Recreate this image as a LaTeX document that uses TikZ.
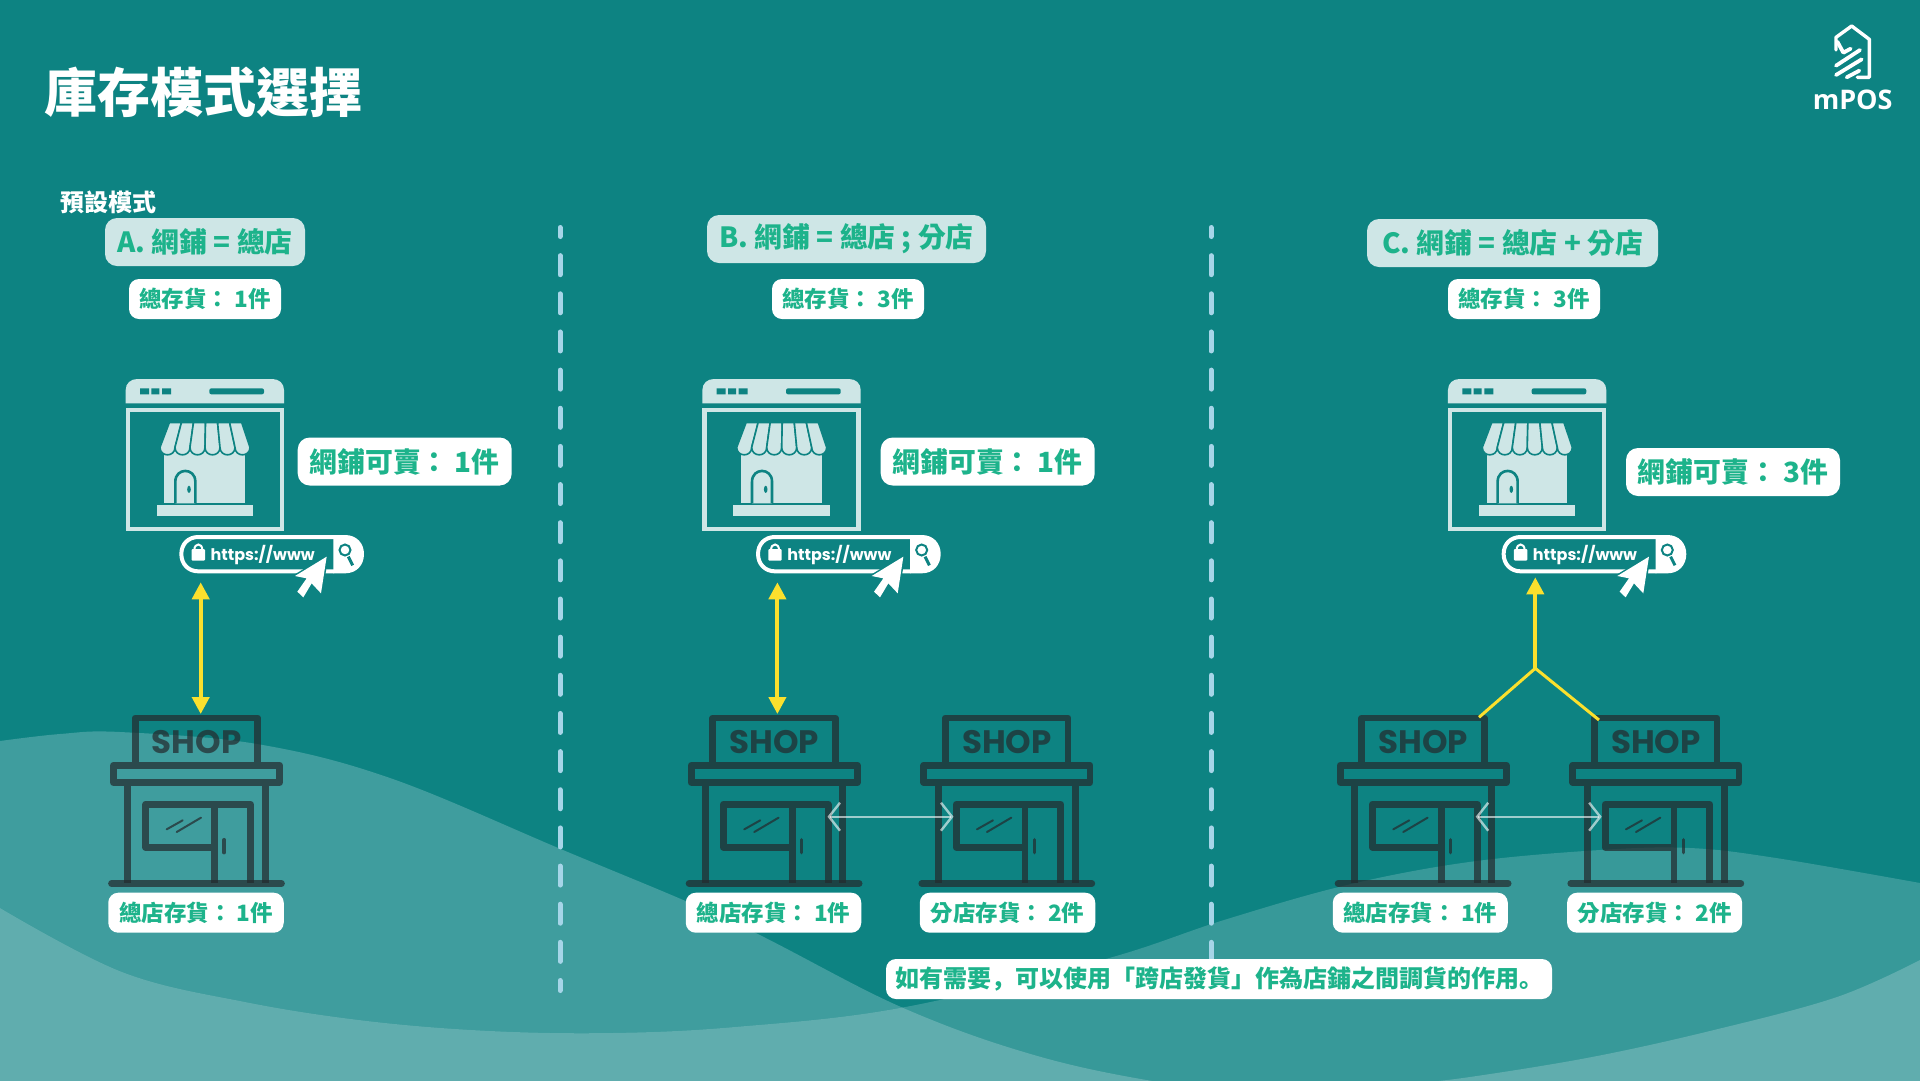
\documentclass[tikz,border=0pt]{standalone}
\usepackage{fontspec}
\setmainfont{Noto Sans CJK TC}
\newfontfamily\notefont{Noto Sans CJK JP}
\newfontfamily\urlfont{Poppins}
\newfontfamily\shopfont{Poppins}
\newfontfamily\logofont{Open Sans}
\usetikzlibrary{arrows.meta}
\definecolor{bgteal}{HTML}{0D8382}
\definecolor{midwave}{HTML}{3F9D9E}
\definecolor{rightwave}{HTML}{379999}
\definecolor{lightwave}{HTML}{60ADAE}
\definecolor{pale}{HTML}{CEE6E6}
\definecolor{txtgreen}{HTML}{1DB38B}
\definecolor{sunny}{HTML}{FBE02D}
\definecolor{dashblue}{HTML}{A6D5E8}
\definecolor{shopink}{HTML}{242B2E}
\tikzset{
  lbl/.style={fill=white,rounded corners=10pt,text=txtgreen,inner sep=0pt,font=\bfseries\fontsize{22.5}{23}\selectfont},
  bigl/.style={lbl,rounded corners=12pt,font=\bfseries\fontsize{27.8}{28}\selectfont},
  headl/.style={bigl,fill=pale},
  divider/.style={dashblue,line width=5pt,line cap=round,dash pattern=on 19pt off 19.15pt},
  yarrow/.style={sunny,line width=4pt,{Triangle[length=17pt,width=17pt]}-{Triangle[length=17pt,width=17pt]}},
  ybranch/.style={sunny,line width=3pt},
  twoway/.style={white,opacity=.6,line width=2pt,{Straight Barb[length=11pt,width=28pt,line width=2.4pt]}-{Straight Barb[length=11pt,width=28pt,line width=2.4pt]}},
}
\newcommand{\shopicon}[2]{%
\begin{scope}[shift={(#1,700)},x=1/3pt,y=-1/3pt]
  \draw[shopink,opacity=.72,line width=6.8pt,line join=round]
    (135.5,190) -- (135.5,54) -- (503,54) -- (503,190)
    (70.5,195.5) rectangle (569,247.5)
    (113.5,258) -- (113.5,550) (525.5,258) -- (525.5,550)
    (374,442) -- (167.5,442) -- (167.5,312.5) -- (481.5,312.5) -- (481.5,550)
    (374,312.5) -- (374,550);
  \draw[shopink,opacity=.72,line width=6.8pt,line cap=round] (64.5,550.5) -- (574.5,550.5);
  \draw[shopink,opacity=.72,line width=3.4pt,line cap=round] (402.5,419) -- (402.5,458);
  \draw[shopink,opacity=.72,line width=2pt,line cap=round] (230,388) -- (278,361) (260,396) -- (333,353);
  \node[shopink,opacity=.72,inner sep=0pt,font=\shopfont\bfseries\fontsize{32.5}{32.5}\selectfont] (#2) at (320,125) {SHOP};
\end{scope}}
\newcommand{\webicon}[2]{%
\begin{scope}[shift={(#1,360)},x=1/3pt,y=-1/3pt]
  % title bar
  \fill[pale] (107,130) -- (107,90) .. controls (107,70) and (122,57) .. (142,57) -- (547,57) .. controls (567,57) and (582,70) .. (582,90) -- (582,130) -- cycle;
  \fill[bgteal] (150,85) rectangle (177,103) (184,85) rectangle (208,103) (216,85) rectangle (243,103);
  \fill[bgteal,rounded corners=2pt] (358,85) rectangle (522,103);
  % frame
  \draw[pale,line width=4.3pt] (113.5,150) rectangle (575.5,506);
  % shop body
  \fill[pale] (223,265) rectangle (465,430);
  \fill[pale] (200,436) rectangle (489,467);
  \draw[bgteal,line width=2.6pt,fill=pale] (256,430) -- (256,365) .. controls (256,322) and (316,322) .. (316,365) -- (316,430);
  \fill[bgteal] (297,388) ellipse [x radius=1.8pt,y radius=3.6pt];
  % awning
  \foreach \i in {0,...,5} {
    \pgfmathsetmacro{\xa}{238+\i*36.2}
    \pgfmathsetmacro{\xb}{238+(\i+1)*36.2}
    \pgfmathsetmacro{\xc}{210+\i*45}
    \pgfmathsetmacro{\xd}{210+(\i+1)*45}
    \draw[bgteal,line width=1.6pt,fill=pale] (\xa,188) -- (\xc,262) .. controls (\xc,292) and (\xd,292) .. (\xd,262) -- (\xb,188) -- cycle;
  }
  % address bar
  \draw[white,line width=4pt] (732,531) -- (325,531) .. controls (295,531) and (274,552) .. (274,582) .. controls (274,612) and (295,634) .. (325,634) -- (732,634);
  \fill[white] (730,525) -- (765,525) .. controls (800,525) and (822,550) .. (822,582) .. controls (822,615) and (800,640) .. (765,640) -- (730,640) -- cycle;
  \draw[bgteal,line width=2pt] (765,570) circle [radius=5.5pt];
  \draw[bgteal,line width=3pt] (775,590) -- (788,616);
  \fill[white,rounded corners=1pt] (305,567) rectangle (345,602);
  \draw[white,line width=2pt] (313,570) .. controls (313,548) and (337,548) .. (337,570);
  \node[white,inner sep=0pt,font=\urlfont\bfseries\fontsize{16}{16}\selectfont] (#2) at (518,586) {https://www};
  \draw[bgteal,line width=3pt,line join=miter] (710,590) -- (615,648) -- (650,655) -- (622,695) -- (640,712) -- (665,670) -- (693,700) -- cycle;
  \fill[white] (710,590) -- (615,648) -- (650,655) -- (622,695) -- (640,712) -- (665,670) -- (693,700) -- cycle;
\end{scope}}
\begin{document}
\begin{tikzpicture}[x=1pt,y=-1pt]
\useasboundingbox (0,0) rectangle (1920,1080);
\clip (0,0) rectangle (1920,1080);
\fill[bgteal] (0,0) rectangle (1920,1080);
% waves
\def\waveA{(0,741) (60,734) (120,732) (257,744) (390,778) (563,850) (735,923) (901,1007) (1041,1057) (1176,1085) (1300,1100)}
\def\waveB{(0,908) (122,972) (245,1002) (367,1021) (490,1031) (612,1033) (735,1027) (900,1008) (1102,960) (1224,920) (1347,885) (1469,862) (1600,850) (1690,848) (1776,858) (1920,883)}
\fill[midwave] (0,1120) -- plot[smooth,tension=.6] coordinates {\waveA} -- (1300,1120) -- cycle;
\fill[rightwave] (0,1120) -- plot[smooth,tension=.6] coordinates {\waveB} -- (1920,1120) -- cycle;
\begin{scope}
  \clip (0,1120) -- plot[smooth,tension=.6] coordinates {\waveA} -- (1300,1120) -- cycle;
  \fill[lightwave] (0,1120) -- plot[smooth,tension=.6] coordinates {\waveB} -- (1920,1120) -- cycle;
\end{scope}
\fill[lightwave] (1920,1120) -- plot[smooth,tension=.6] coordinates {(1920,960) (1837,997) (1714,1030) (1592,1057) (1470,1077) (1408,1084)} -- (1408,1120) -- cycle;
% dividers
\draw[divider,dash phase=10pt] (560,227.5) -- (560,990.5);
\draw[divider,dash phase=10pt] (1211,227.5) -- (1211,965);
% title
\node[white,inner sep=0pt,anchor=west,font=\bfseries\fontsize{53}{53}\selectfont] (title) at (44,92) {庫存模式選擇};
\node[white,inner sep=0pt,anchor=west,font=\bfseries\fontsize{24}{24}\selectfont] (preset) at (60,202) {預設模式};
% headers
\node[headl,minimum width=200pt,minimum height=48pt] (headA) at (205,242) {A. 網鋪 = 總店};
\node[headl,minimum width=279pt,minimum height=48pt] (headB) at (846.5,239) {B. 網鋪 = 總店 ; 分店};
\node[headl,minimum width=291pt,minimum height=48pt] (headC) at (1512.5,243) {C. 網鋪 = 總店 + 分店\hspace{5pt}};
\node[lbl,minimum width=152pt,minimum height=40pt] (totA) at (205,299) {總存貨： 1件};
\node[lbl,minimum width=152pt,minimum height=40pt] (totB) at (848,299) {總存貨： 3件};
\node[lbl,minimum width=152pt,minimum height=40pt] (totC) at (1524,299) {總存貨： 3件};
% web shops
\webicon{90}{urlA}
\webicon{666.7}{urlB}
\webicon{1412.3}{urlC}
\node[bigl,minimum width=214pt,minimum height=48pt] (sellA) at (404.7,461.5) {網鋪可賣： 1件};
\node[bigl,minimum width=214pt,minimum height=48pt] (sellB) at (987.7,461.5) {網鋪可賣： 1件};
\node[bigl,minimum width=214pt,minimum height=48pt] (sellC) at (1733,472) {網鋪可賣： 3件};
% physical shops
\shopicon{90}{shopA}
\shopicon{667.6}{shopB}
\shopicon{900.3}{shopBb}
\shopicon{1316.6}{shopC}
\shopicon{1549.3}{shopCb}
% stock labels
\node[lbl,minimum width=175.5pt,minimum height=40pt] (stA) at (196,912.7) {總店存貨： 1件};
\node[lbl,minimum width=175.5pt,minimum height=40pt] (stB) at (773.5,912.7) {總店存貨： 1件};
\node[lbl,minimum width=175.5pt,minimum height=40pt] (stBb) at (1007.5,912.7) {分店存貨： 2件};
\node[lbl,minimum width=175pt,minimum height=40pt] (stC) at (1420.3,912.7) {總店存貨： 1件};
\node[lbl,minimum width=175pt,minimum height=40pt] (stCb) at (1654.6,912.7) {分店存貨： 2件};
\node[lbl,minimum width=666pt,minimum height=40pt,font=\notefont\bfseries\fontsize{24}{24}\selectfont] (note) at (1219,979) {如有需要，可以使用「跨店發貨」作為店鋪之間調貨的作用。};
% connectors
\coordinate (upA) at (200.7,582.3);
\coordinate (downA) at (200.7,714);
\coordinate (upB) at (777.4,582.3);
\coordinate (downB) at (777.4,714);
\draw[yarrow] (upA) -- (downA);
\draw[yarrow] (upB) -- (downB);
\coordinate (upC) at (1535.3,577.3);
\coordinate (joinC) at (1535.3,668.3);
\coordinate (legC) at (1479,717.3);
\coordinate (legCb) at (1599,720);
\draw[sunny,line width=4pt,-{Triangle[length=17pt,width=17pt]}] (joinC) -- (upC);
\draw[ybranch] (legC) -- (joinC) -- (legCb);
\coordinate (twoBl) at (827.5,816.7);
\coordinate (twoBr) at (953.5,816.7);
\coordinate (twoCl) at (1475.7,816.7);
\coordinate (twoCr) at (1601.7,816.7);
\draw[twoway] (twoBl) -- (twoBr);
\draw[twoway] (twoCl) -- (twoCr);
% logo
\begin{scope}[shift={(1780,0)},x=1/3pt,y=-1/3pt]
  \draw[white,line width=3.4pt,line cap=round,line join=round]
    (232,232) -- (268,232) -- (268,118) -- (215,78) -- (168,112) -- (168,150);
  \draw[white,line width=3.8pt,line cap=round,line join=round]
    (172,125) -- (190,158) -- (212,146)
    (168,197) -- (240,150)
    (168,225) -- (245,178)
    (200,232) -- (238,212);
  \node[white,inner sep=0pt,font=\logofont\bfseries\fontsize{27}{27}\selectfont] (logo) at (218,300) {mPOS};
\end{scope}
\end{tikzpicture}
\end{document}
